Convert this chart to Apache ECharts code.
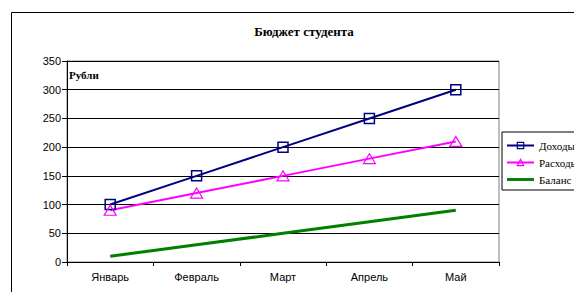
<!DOCTYPE html>
<html>
<head>
<meta charset="utf-8">
<script src="https://cdn.jsdelivr.net/npm/echarts@6/dist/echarts.min.js"></script>
<style>
  html, body { margin: 0; padding: 0; background: #fff; }
  #chart { width: 574px; height: 292px; }
</style>
</head>
<body>
<div id="chart"></div>
<script>
// месяцы и данные бюджета
var months = ['Январь', 'Февраль', 'Март', 'Апрель', 'Май'];
var income = [100, 150, 200, 250, 300];
var expenses = [90, 120, 150, 180, 210];
var balance = [10, 30, 50, 70, 90];
var yTicks = [0, 50, 100, 150, 200, 250, 300, 350];

var chart = echarts.init(document.getElementById('chart'), null, { renderer: 'svg' });

var option = {
    animation: false,
    title: {
        text: 'Бюджет студента',
        left: 299,
        textAlign: 'center',
        top: 20,
        textStyle: { fontFamily: 'Liberation Serif', fontSize: 13, fontWeight: 'bold', color: '#000' }
    },
    graphic: [
        {
            type: 'rect',
            left: 9, top: 10,
            shape: { width: 620, height: 320 },
            style: { fill: 'none', stroke: '#000', lineWidth: 1 },
            z: -1
        },
        {
            type: 'text',
            left: 69, top: 69,
            style: { text: 'Рубли', font: 'bold 11px "Liberation Serif"', fill: '#000' },
            z: 10
        }
    ],
    legend: {
        orient: 'vertical',
        left: 502,
        top: 132,
        width: 100,
        padding: [8, 40, 5, 4],
        itemGap: 6,
        itemWidth: 27,
        itemHeight: 8,
        itemStyle: { borderWidth: 1.2 },
        borderColor: '#000',
        borderWidth: 1,
        textStyle: { fontFamily: 'Liberation Serif', fontSize: 11, color: '#000' },
        data: [
            { name: 'Доходы' },
            { name: 'Расходы' },
            { name: 'Баланс', icon: 'path://M0,0 H28 V3 H0 Z' }
        ]
    },
    grid: {
        left: 67, right: 75, top: 61, bottom: 30,
        show: true, borderColor: '#808080', borderWidth: 1
    },
    xAxis: {
        type: 'category',
        data: months,
        boundaryGap: true,
        axisLine: { lineStyle: { color: '#000' } },
        axisTick: { show: true, length: 4, lineStyle: { color: '#000' } },
        axisLabel: { color: '#000', fontFamily: 'Liberation Sans', fontSize: 11, margin: 9 }
    },
    yAxis: {
        type: 'value',
        min: yTicks[0],
        max: yTicks[yTicks.length - 1],
        interval: 50,
        axisLine: { show: true, lineStyle: { color: '#000' } },
        axisTick: { show: true, length: 5, lineStyle: { color: '#000' } },
        axisLabel: { color: '#000', fontFamily: 'Liberation Sans', fontSize: 11, margin: 6 },
        splitLine: { show: true, lineStyle: { color: '#000', width: 1 } }
    },
    series: [
        {
            name: 'Доходы',
            type: 'line',
            data: income,
            symbol: 'rect',
            symbolSize: 10,
            lineStyle: { color: '#000080', width: 2 },
            itemStyle: { color: 'rgba(0,0,0,0)', borderColor: '#000080', borderWidth: 1.5 }
        },
        {
            name: 'Расходы',
            type: 'line',
            data: expenses,
            symbol: 'triangle',
            symbolSize: [12, 10],
            lineStyle: { color: '#ff00ff', width: 2 },
            itemStyle: { color: 'rgba(0,0,0,0)', borderColor: '#ff00ff', borderWidth: 1.2 }
        },
        {
            name: 'Баланс',
            type: 'line',
            data: balance,
            symbol: 'none',
            lineStyle: { color: '#008000', width: 3 },
            itemStyle: { color: '#008000' }
        }
    ]
};

chart.setOption(option);

window.addEventListener('resize', function() {
    chart.resize();
});
</script>
</body>
</html>
